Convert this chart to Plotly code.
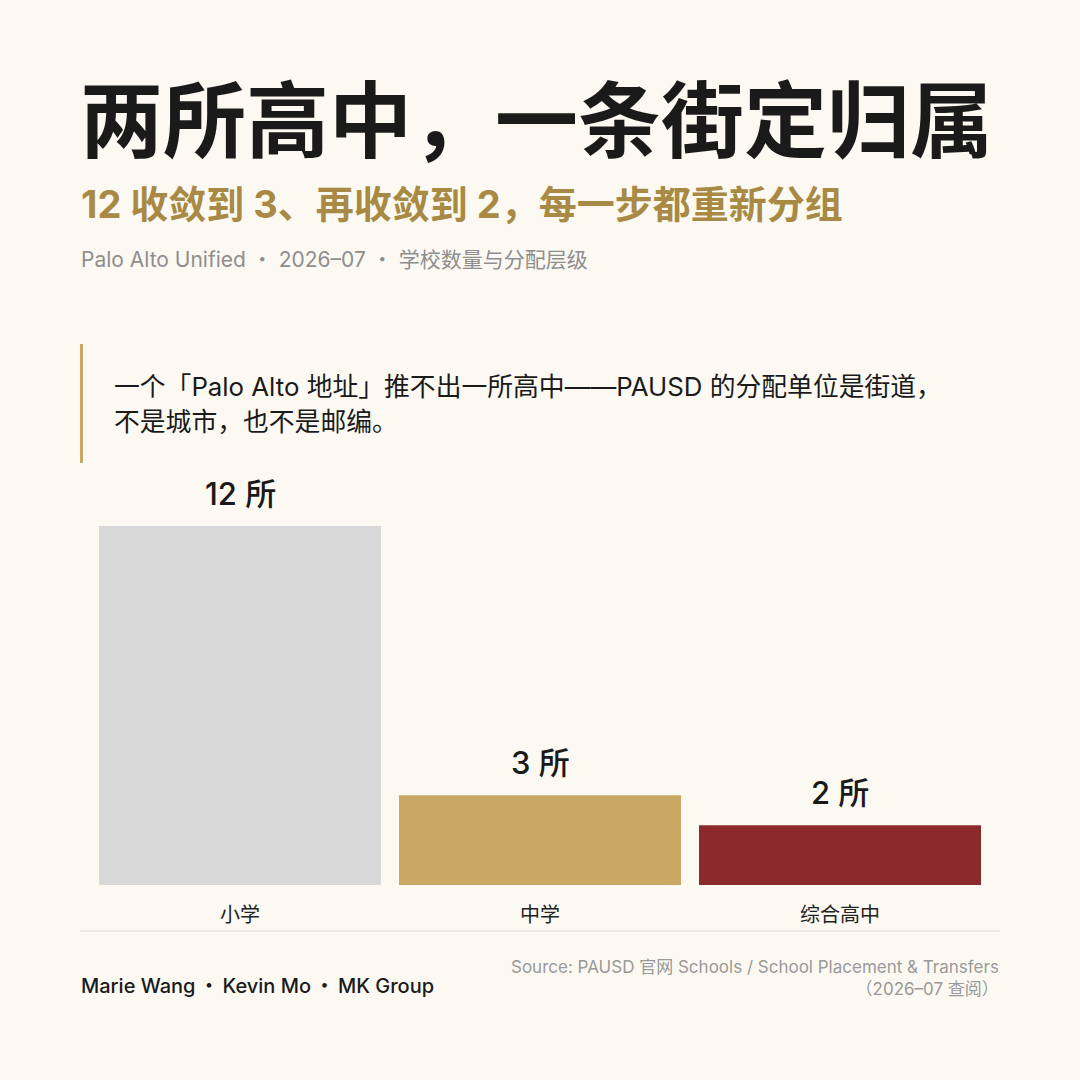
import plotly.graph_objects as go

categories = ["小学", "中学", "综合高中"]
counts = [12, 3, 2]
value_labels = ["12 所", "3 所", "2 所"]
bar_colors = ["#D8D8D8", "#C9A865", "#8A2A2D"]

title_text = "两所高中，一条街定归属"
subtitle_text = "12 收敛到 3、再收敛到 2，每一步都重新分组"
meta_text = "Palo Alto Unified ・ 2026–07 ・ 学校数量与分配层级"
quote_lines = ["一个「Palo Alto 地址」推不出一所高中——PAUSD 的分配单位是街道，", "不是城市，也不是邮编。"]
credit_text = "Marie Wang\u2009・\u2009Kevin Mo\u2009・\u2009MK Group"
source_text = "Source: PAUSD 官网 Schools / School Placement & Transfers<br>（2026–07 查阅）"

W, H = 1080, 1080
L, R = 90, 990
TOP, BASE = 496, 885
YMAX = 13

FONT = "Inter, Noto Sans CJK SC, sans-serif"
BG = "#FCF9F2"


def px(x):
    return (x - L) / (R - L)


def py(y):
    return (BASE - y) / (BASE - TOP)


fig = go.Figure()
fig.add_trace(go.Bar(
    x=categories, y=counts, marker=dict(color=bar_colors, line=dict(width=0)),
    hoverinfo="skip", showlegend=False,
))

annotations = []
for c, v, lab in zip(categories, counts, value_labels):
    annotations.append(dict(
        x=c, y=v, xref="x", yref="y", text=lab, showarrow=False,
        yanchor="bottom", yshift=12,
        font=dict(family=FONT, size=31, color="#1A1A1A", weight=500),
    ))

annotations += [
    dict(x=px(78), y=py(121), xref="paper", yref="paper", text=title_text,
         showarrow=False, xanchor="left", yanchor="middle",
         font=dict(family=FONT, size=83, color="#1A1A1A", weight=700)),
    dict(x=px(79), y=py(204), xref="paper", yref="paper", text=subtitle_text,
         showarrow=False, xanchor="left", yanchor="middle",
         font=dict(family=FONT, size=38, color="#A88A45", weight=700)),
    dict(x=px(79), y=py(259), xref="paper", yref="paper", text=meta_text,
         showarrow=False, xanchor="left", yanchor="middle",
         font=dict(family=FONT, size=21, color="#8E8E8E")),
    dict(x=px(112), y=py(386), xref="paper", yref="paper", text=quote_lines[0],
         showarrow=False, xanchor="left", yanchor="middle",
         font=dict(family=FONT, size=25.8, color="#1A1A1A")),
    dict(x=px(112), y=py(421), xref="paper", yref="paper", text=quote_lines[1],
         showarrow=False, xanchor="left", yanchor="middle",
         font=dict(family=FONT, size=25.8, color="#1A1A1A")),
    dict(x=px(79), y=py(986), xref="paper", yref="paper", text=credit_text,
         showarrow=False, xanchor="left", yanchor="middle",
         font=dict(family=FONT, size=20, color="#1A1A1A", weight=500)),
    dict(x=px(1001), y=py(978), xref="paper", yref="paper", text=source_text,
         showarrow=False, xanchor="right", yanchor="middle", align="right",
         font=dict(family=FONT, size=17, color="#999999")),
]

shapes = [
    dict(type="rect", xref="paper", yref="paper", x0=px(80), x1=px(83),
         y0=py(463), y1=py(344), fillcolor="#C9A865", line=dict(width=0)),
    dict(type="line", xref="paper", yref="paper", x0=px(80), x1=px(1000),
         y0=py(931), y1=py(931), line=dict(color="#DDDAD3", width=1)),
]

fig.update_layout(
    width=W, height=H,
    margin=dict(l=L, r=W - R, t=TOP, b=H - BASE),
    paper_bgcolor=BG, plot_bgcolor=BG,
    bargap=0.06,
    annotations=annotations, shapes=shapes,
    font=dict(family=FONT),
    xaxis=dict(showgrid=False, zeroline=False, showline=False, ticks="",
               ticklabelstandoff=16,
               tickfont=dict(family=FONT, size=20, color="#222222"),
               fixedrange=True),
    yaxis=dict(range=[0, YMAX], visible=False, showgrid=False, zeroline=False,
               fixedrange=True),
)

fig.write_html("out.html", config={"displayModeBar": False})
